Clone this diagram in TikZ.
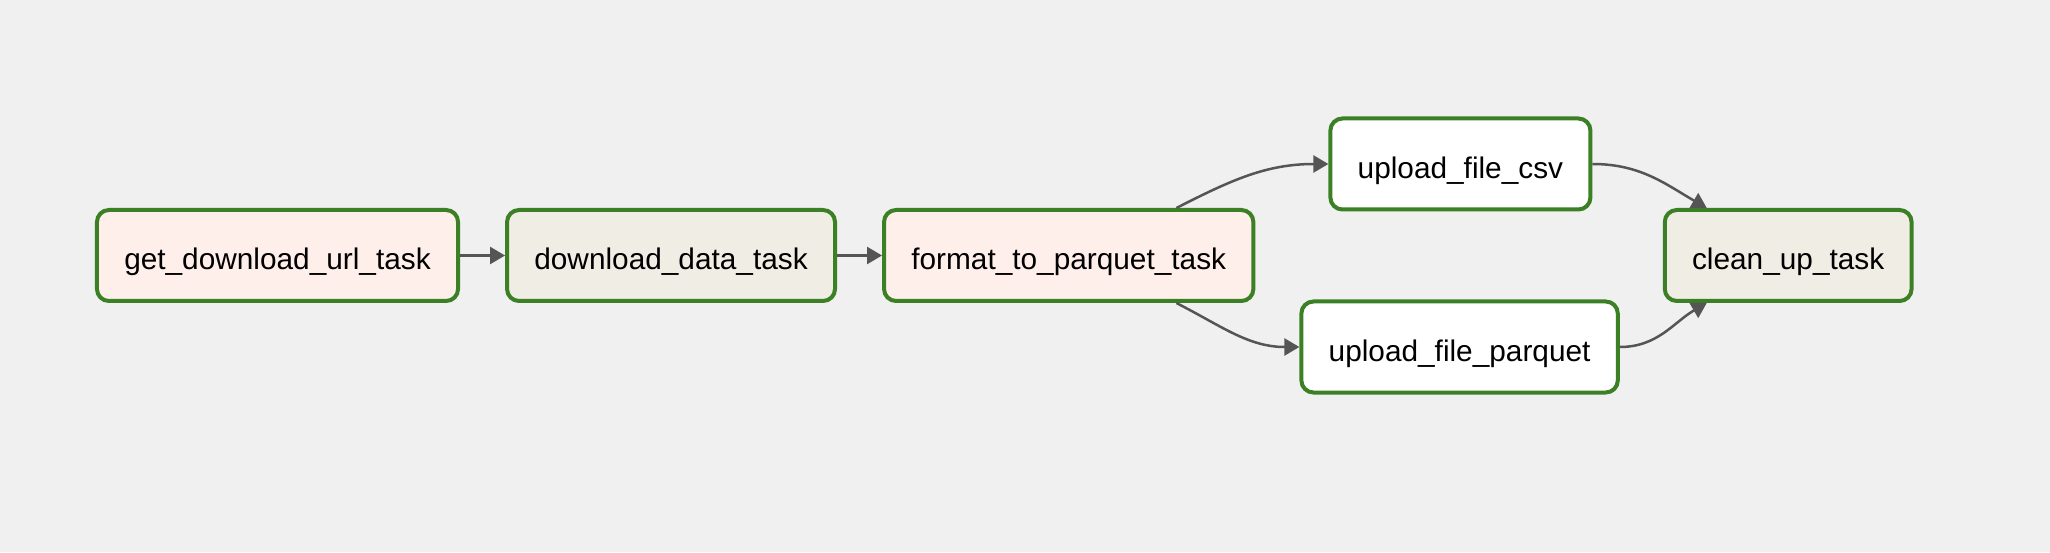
\documentclass[tikz,border=0pt]{standalone}
\usepackage{fontspec}
\setmainfont{Liberation Sans}
\usetikzlibrary{positioning}
\usetikzlibrary{chains}
\usetikzlibrary{arrows.meta}
\definecolor{taskgreen}{HTML}{3B8024}
\definecolor{pyfill}{HTML}{FFEFEB}
\definecolor{bashfill}{HTML}{F0EDE4}
\definecolor{edgegray}{HTML}{555555}
\definecolor{bggray}{HTML}{F0F0F0}
\begin{document}
\begin{tikzpicture}[task/.style={draw=taskgreen,line width=2pt,rounded corners=6pt,
        font=\fontsize{14.9}{18}\selectfont,inner xsep=13.65pt,minimum height=45.5pt,
        text height=17.5pt,text depth=3pt},
    pytask/.style={task,fill=pyfill},bashtask/.style={task,fill=bashfill},
    gcstask/.style={task,fill=white},
    edge/.style={draw=edgegray,line width=1.25pt,-{Triangle[length=7.5pt,width=8.5pt]}},
    start chain=going right,node distance=22.5pt]
  \fill[bggray] (0,0) rectangle (1025pt,276pt);
  \useasboundingbox (0,0) rectangle (1025pt,276pt);
  \path node[pytask,on chain] (geturl) at (138.75pt,148.25pt) {get\_download\_url\_task}
    node[bashtask,on chain] (download) {download\_data\_task}
    node[pytask,on chain] (format) {format\_to\_parquet\_task};
  \node[gcstask,right=36.5pt of format,yshift=45.75pt] (csv) {upload\_file\_csv};
  \node[gcstask,right=22pt of format,yshift=-45.75pt] (parquet) {upload\_file\_parquet};
  \node[bashtask,right=21.5pt of parquet,yshift=45.75pt] (cleanup) {clean\_up\_task};
  % dependencies
  \draw[edge] (geturl) -- (download);
  \draw[edge] (download) -- (format);
  \draw[edge] ([xshift=-39.5pt]format.north east) to[out=27,in=180] (csv.west);
  \draw[edge] ([xshift=-39.5pt]format.south east) to[out=-27,in=180] (parquet.west);
  \draw[edge] (csv.east) to[out=0,in=150] ([xshift=22pt]cleanup.north west);
  \draw[edge] (parquet.east) to[out=0,in=210] ([xshift=22pt]cleanup.south west);
\end{tikzpicture}
\end{document}
